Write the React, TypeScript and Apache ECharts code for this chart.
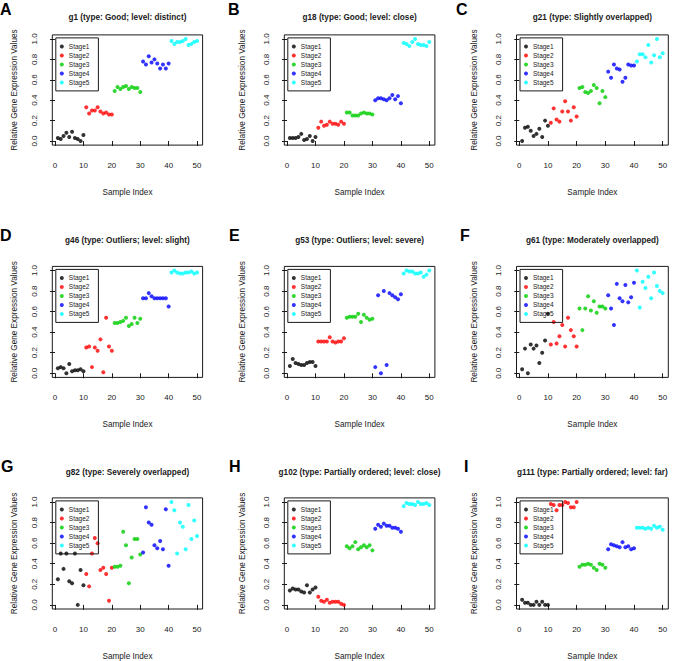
import React, { useEffect, useRef } from "react";
import * as echarts from "echarts";

// ---------- data ----------
const stageNames = ["Stage1", "Stage2", "Stage3", "Stage4", "Stage5"];
const stageColors = ["#000000", "#FF0000", "#00CD00", "#0000FF", "#00FFFF"];
const xTicks = [0, 10, 20, 30, 40, 50];
const yTicks = [0, 0.2, 0.4, 0.6, 0.8, 1.0];

const g1 = [
  0.03, 0.02, 0.05, 0.08, 0.04, 0.09, 0.03, 0.02, 0.0, 0.06,
  0.33, 0.27, 0.3, 0.3, 0.33, 0.29, 0.27, 0.28, 0.26, 0.26,
  0.49, 0.53, 0.51, 0.53, 0.54, 0.51, 0.53, 0.52, 0.52, 0.48,
  0.78, 0.75, 0.83, 0.77, 0.8, 0.76, 0.71, 0.75, 0.71, 0.76,
  0.98, 0.95, 0.97, 0.97, 0.98, 1.0, 0.94, 0.95, 0.97, 0.98,
];
const g18 = [
  0.03, 0.03, 0.03, 0.04, 0.07, 0.01, 0.02, 0.05, 0.0, 0.04,
  0.13, 0.19, 0.15, 0.16, 0.19, 0.17, 0.17, 0.16, 0.19, 0.17,
  0.28, 0.28, 0.25, 0.25, 0.25, 0.27, 0.28, 0.27, 0.27, 0.26,
  0.4, 0.42, 0.42, 0.41, 0.4, 0.42, 0.45, 0.41, 0.44, 0.37,
  0.96, 0.95, 0.93, 0.97, 1.0, 0.95, 0.94, 0.94, 0.93, 0.97,
];
const g21 = [
  0.0, 0.13, 0.14, 0.1, 0.05, 0.07, 0.12, 0.04, 0.2, 0.15,
  0.18, 0.32, 0.21, 0.19, 0.29, 0.39, 0.29, 0.2, 0.33, 0.24,
  0.52, 0.53, 0.48, 0.47, 0.49, 0.55, 0.52, 0.37, 0.49, 0.43,
  0.68, 0.62, 0.75, 0.71, 0.7, 0.58, 0.62, 0.75, 0.74, 0.74,
  0.78, 0.85, 0.85, 0.82, 0.94, 0.77, 0.84, 1.0, 0.82, 0.86,
];
const g46 = [
  0.05, 0.06, 0.05, 0.0, 0.09, 0.02, 0.03, 0.03, 0.04, 0.02,
  0.25, 0.26, 0.06, 0.25, 0.22, 0.33, 0.01, 0.54, 0.26, 0.22,
  0.49, 0.49, 0.5, 0.51, 0.54, 0.46, 0.48, 0.54, 0.49, 0.53,
  0.73, 0.73, 0.78, 0.75, 0.73, 0.73, 0.73, 0.73, 0.73, 0.65,
  0.98, 1.0, 0.98, 0.97, 0.97, 0.98, 0.98, 0.99, 0.97, 0.98,
];
const g53 = [
  0.07, 0.14, 0.1, 0.09, 0.08, 0.08, 0.1, 0.11, 0.11, 0.07,
  0.31, 0.31, 0.31, 0.31, 0.35, 0.31, 0.3, 0.31, 0.31, 0.34,
  0.54, 0.55, 0.55, 0.55, 0.58, 0.5, 0.57, 0.54, 0.52, 0.53,
  0.06, 0.76, 0.0, 0.8, 0.08, 0.78, 0.76, 0.74, 0.72, 0.77,
  0.97, 1.0, 0.99, 0.99, 0.97, 0.97, 0.98, 0.94, 0.96, 1.0,
];
const g61 = [
  0.04, 0.24, 0.0, 0.28, 0.24, 0.27, 0.1, 0.2, 0.32, 0.58,
  0.28, 0.5, 0.29, 0.36, 0.47, 0.26, 0.54, 0.42, 0.36, 0.26,
  0.63, 0.42, 0.63, 0.75, 0.61, 0.7, 0.59, 0.65, 0.65, 0.63,
  0.76, 0.63, 0.47, 0.87, 0.73, 0.7, 0.86, 0.69, 0.74, 0.88,
  1.0, 0.64, 0.89, 0.83, 0.94, 0.73, 0.98, 0.85, 0.8, 0.78,
];
const g82 = [
  0.25, 0.5, 0.35, 0.5, 0.23, 0.21, 0.5, 0.0, 0.34, 0.19,
  0.3, 0.18, 0.5, 0.65, 0.6, 0.34, 0.36, 0.3, 0.04, 0.36,
  0.37, 0.37, 0.38, 0.71, 0.58, 0.21, 0.46, 0.64, 0.64, 0.49,
  0.51, 0.95, 0.8, 0.78, 0.58, 0.55, 0.62, 0.54, 0.93, 0.38,
  1.0, 0.92, 0.5, 0.8, 0.76, 0.54, 0.97, 0.64, 0.82, 0.67,
];
const g102 = [
  0.14, 0.16, 0.15, 0.15, 0.13, 0.12, 0.19, 0.12, 0.15, 0.17,
  0.08, 0.04, 0.03, 0.05, 0.02, 0.03, 0.03, 0.03, 0.01, 0.0,
  0.57, 0.55, 0.57, 0.61, 0.54, 0.56, 0.58, 0.56, 0.58, 0.53,
  0.74, 0.78, 0.76, 0.79, 0.77, 0.77, 0.75, 0.75, 0.74, 0.71,
  0.96, 0.99, 0.98, 0.98, 0.97, 1.0, 0.98, 0.98, 0.99, 0.97,
];
const g111 = [
  0.05, 0.02, 0.02, 0.0, 0.0, 0.03, 0.0, 0.03, 0.0, 0.0,
  0.98, 0.97, 0.92, 0.97, 0.97, 1.0, 0.99, 0.95, 0.95, 1.0,
  0.37, 0.39, 0.39, 0.4, 0.39, 0.36, 0.34, 0.4, 0.39, 0.36,
  0.54, 0.59, 0.58, 0.57, 0.56, 0.61, 0.56, 0.57, 0.54, 0.55,
  0.75, 0.75, 0.75, 0.74, 0.75, 0.74, 0.77, 0.75, 0.76, 0.73,
];

const panelLetters = ["A", "B", "C", "D", "E", "F", "G", "H", "I"];
const panelTitles = [
  "g1 (type: Good; level: distinct)",
  "g18 (type: Good; level: close)",
  "g21 (type: Slightly overlapped)",
  "g46 (type: Outliers; level: slight)",
  "g53 (type: Outliers; level: severe)",
  "g61 (type: Moderately overlapped)",
  "g82 (type: Severely overlapped)",
  "g102 (type: Partially ordered; level: close)",
  "g111 (type: Partially ordered; level: far)",
];
const panelValues = [g1, g18, g21, g46, g53, g61, g82, g102, g111];

// ---------- layout ----------
const FONT = '"Liberation Sans", Arial, Helvetica, sans-serif';
const INK = "#1a1a1a";
const cols = [
  { left: 52.3, width: 150.3, yNameGap: 34 },
  { left: 284.3, width: 150.6, yNameGap: 37.5 },
  { left: 516.5, width: 151.8, yNameGap: 38.5 },
];
const rows = [
  { top: 34.9, height: 110.2, titleY: 17, letterTop: 1 },
  { top: 266.4, height: 111, titleY: 240, letterTop: 227 },
  { top: 497.9, height: 111.2, titleY: 472, letterTop: 458 },
];
const letterLefts = [0, 228, 456, 0, 229, 460, 1, 229, 464];

function buildOption() {
  const grid: any[] = [];
  const xAxis: any[] = [];
  const yAxis: any[] = [];
  const series: any[] = [];
  const legend: any[] = [];
  const graphic: any[] = [];

  panelValues.forEach((vals, i) => {
    const c = cols[i % 3];
    const r = rows[Math.floor(i / 3)];
    grid.push({
      left: c.left,
      top: r.top,
      width: c.width,
      height: r.height,
      show: true,
      borderColor: INK,
      borderWidth: 1,
      backgroundColor: "transparent",
    });
    xAxis.push({
      gridIndex: i,
      type: "value",
      min: -0.96,
      max: 51.96,
      axisLine: { show: false },
      axisTick: { show: true, length: 5, customValues: xTicks, lineStyle: { color: INK, width: 1 } },
      axisLabel: { customValues: xTicks, margin: 16, fontSize: 8, color: INK, fontFamily: FONT },
      splitLine: { show: false },
      name: "Sample Index",
      nameLocation: "middle",
      nameGap: 43,
      nameTextStyle: { fontSize: 8.2, color: INK, fontFamily: FONT },
    });
    yAxis.push({
      gridIndex: i,
      type: "value",
      min: -0.04,
      max: 1.04,
      axisLine: { show: false },
      axisTick: { show: true, length: 5, customValues: yTicks, lineStyle: { color: INK, width: 1 } },
      axisLabel: {
        customValues: yTicks,
        rotate: 90,
        margin: 14,
        fontSize: 8,
        color: INK,
        fontFamily: FONT,
        formatter: (v: number) => v.toFixed(1),
      },
      splitLine: { show: false },
      name: "Relative Gene Expression Values",
      nameLocation: "middle",
      nameGap: c.yNameGap,
      nameTextStyle: { fontSize: 8.2, color: INK, fontFamily: FONT },
    });
    stageNames.forEach((sn, s) => {
      const data: number[][] = [];
      for (let k = 0; k < 10; k++) {
        const idx = s * 10 + k;
        data.push([idx + 1, vals[idx]]);
      }
      series.push({
        type: "scatter",
        name: sn,
        xAxisIndex: i,
        yAxisIndex: i,
        data,
        symbol: "circle",
        symbolSize: 4,
        itemStyle: { color: stageColors[s] },
        emphasis: { disabled: true },
      });
    });
    legend.push({
      orient: "vertical",
      left: c.left + 3.5,
      top: r.top + 3,
      data: stageNames.map((n) => ({ name: n, icon: "circle" })),
      itemWidth: 4,
      itemHeight: 4,
      itemGap: 2,
      padding: [5, 9, 5, 4],
      borderColor: INK,
      borderWidth: 1,
      selectedMode: false,
      textStyle: { fontSize: 6.5, color: INK, fontFamily: FONT, lineHeight: 6 },
    });
    graphic.push({
      type: "text",
      x: c.left + c.width / 2,
      y: r.titleY,
      style: {
        text: panelTitles[i],
        fontSize: 8.2,
        fontWeight: "bold",
        fontFamily: FONT,
        fill: INK,
        align: "center",
        verticalAlign: "middle",
      },
    });
    graphic.push({
      type: "text",
      x: letterLefts[i],
      y: r.letterTop,
      style: {
        text: panelLetters[i],
        fontSize: 16,
        fontWeight: "bold",
        fontFamily: FONT,
        fill: "#000",
        align: "left",
        verticalAlign: "top",
      },
    });
  });

  return {
    animation: false,
    backgroundColor: "#ffffff",
    grid,
    xAxis,
    yAxis,
    series,
    legend,
    graphic,
  };
}

export default function App() {
  const ref = useRef<HTMLDivElement>(null);
  useEffect(() => {
    if (!ref.current) return;
    const chart = echarts.init(ref.current, undefined, { renderer: "svg" });
    chart.setOption(buildOption() as any);
    return () => chart.dispose();
  }, []);
  return (
    <div
      ref={ref}
      style={{ position: "fixed", left: 0, top: 0, width: 685, height: 661, background: "#fff" }}
    />
  );
}
